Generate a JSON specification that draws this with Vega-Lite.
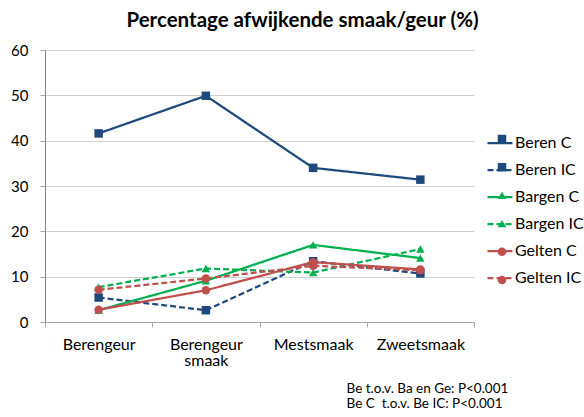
{
  "$schema": "https://vega.github.io/schema/vega-lite/v6.json",
  "width": 429,
  "height": 272,
  "autosize": {"type": "none"},
  "padding": {"left": 45, "top": 50, "right": 110, "bottom": 95},
  "background": "white",
  "config": {
    "font": "Lato",
    "view": {"stroke": null},
    "axis": {"labelFont": "Lato", "titleFont": "Lato"}
  },
  "title": {
    "text": "Percentage afwijkende smaak/geur (%)",
    "font": "Lato",
    "fontSize": 20.5,
    "fontWeight": "bold",
    "color": "#000000",
    "anchor": "middle",
    "frame": "group",
    "dx": 43,
    "dy": 19,
    "baseline": "alphabetic",
    "offset": 15
  },
  "data": {
    "values": [
      {"series": "Beren C", "cat": "Berengeur", "value": 41.6},
      {"series": "Beren C", "cat": "Berengeur smaak", "value": 49.9},
      {"series": "Beren C", "cat": "Mestsmaak", "value": 34.0},
      {"series": "Beren C", "cat": "Zweetsmaak", "value": 31.4},
      {"series": "Beren IC", "cat": "Berengeur", "value": 5.4},
      {"series": "Beren IC", "cat": "Berengeur smaak", "value": 2.6},
      {"series": "Beren IC", "cat": "Mestsmaak", "value": 13.4},
      {"series": "Beren IC", "cat": "Zweetsmaak", "value": 10.7},
      {"series": "Bargen C", "cat": "Berengeur", "value": 2.6},
      {"series": "Bargen C", "cat": "Berengeur smaak", "value": 9.1},
      {"series": "Bargen C", "cat": "Mestsmaak", "value": 17.0},
      {"series": "Bargen C", "cat": "Zweetsmaak", "value": 14.1},
      {"series": "Bargen IC", "cat": "Berengeur", "value": 7.7},
      {"series": "Bargen IC", "cat": "Berengeur smaak", "value": 11.8},
      {"series": "Bargen IC", "cat": "Mestsmaak", "value": 10.9},
      {"series": "Bargen IC", "cat": "Zweetsmaak", "value": 16.1},
      {"series": "Gelten C", "cat": "Berengeur", "value": 2.7},
      {"series": "Gelten C", "cat": "Berengeur smaak", "value": 7.0},
      {"series": "Gelten C", "cat": "Mestsmaak", "value": 13.2},
      {"series": "Gelten C", "cat": "Zweetsmaak", "value": 11.6},
      {"series": "Gelten IC", "cat": "Berengeur", "value": 7.1},
      {"series": "Gelten IC", "cat": "Berengeur smaak", "value": 9.6},
      {"series": "Gelten IC", "cat": "Mestsmaak", "value": 12.4},
      {"series": "Gelten IC", "cat": "Zweetsmaak", "value": 11.4}
    ]
  },
  "encoding": {
    "x": {
      "field": "cat",
      "type": "nominal",
      "sort": ["Berengeur", "Berengeur smaak", "Mestsmaak", "Zweetsmaak"],
      "bandPosition": 0.5,
      "scale": {"type": "band", "paddingInner": 0, "paddingOuter": 0},
      "axis": {
        "labelAngle": 0,
        "labelExpr": "split(datum.label, ' ')",
        "labelFontSize": 16,
        "labelColor": "#000000",
        "labelLineHeight": 16,
        "labelPadding": 9,
        "labelBaseline": "top",
        "tickBand": "extent",
        "tickSize": 5,
        "tickColor": "#a6a6a6",
        "domainColor": "#a6a6a6",
        "grid": false,
        "title": ["Be t.o.v. Ba en Ge: P<0.001", "Be C\u00a0 t.o.v. Be IC: P<0.001"],
        "titleFontSize": 13.5,
        "titleFontWeight": "normal",
        "titleColor": "#000000",
        "titleAlign": "left",
        "titleAnchor": "start",
        "titleBaseline": "alphabetic",
        "titleX": 301,
        "titleY": 70,
        "titleLineHeight": 15
      }
    },
    "y": {
      "field": "value",
      "type": "quantitative",
      "scale": {"domain": [0, 60], "nice": false, "zero": true},
      "axis": {
        "values": [0, 10, 20, 30, 40, 50, 60],
        "labelFontSize": 15,
        "labelColor": "#000000",
        "labelPadding": 12,
        "tickSize": 5,
        "tickColor": "#a6a6a6",
        "domainColor": "#868686",
        "gridColor": "#cfcfcf",
        "gridWidth": 1,
        "title": null
      }
    }
  },
  "layer": [
    {
      "mark": {"type": "line", "strokeWidth": 2.25},
      "encoding": {
        "color": {
          "field": "series",
          "type": "nominal",
          "scale": {
            "domain": ["Beren C", "Beren IC", "Bargen C", "Bargen IC", "Gelten C", "Gelten IC"],
            "range": ["#1f497d", "#1f497d", "#00b050", "#00b050", "#c0504d", "#c0504d"]
          },
          "legend": {
            "orient": "none",
            "legendX": 441,
            "legendY": 79,
            "title": null,
            "padding": 0,
            "symbolType": "stroke",
            "symbolSize": 625,
            "symbolStrokeWidth": 2.25,
            "rowPadding": 5,
            "labelOffset": 1,
            "labelFont": "Lato",
            "labelFontSize": 16,
            "labelColor": "#000000"
          }
        },
        "strokeDash": {
          "field": "series",
          "type": "nominal",
          "scale": {
            "domain": ["Beren C", "Beren IC", "Bargen C", "Bargen IC", "Gelten C", "Gelten IC"],
            "range": [[1, 0], [6, 3], [1, 0], [6, 3], [1, 0], [6, 3]]
          }
        }
      }
    },
    {
      "mark": {"type": "point", "filled": true, "opacity": 1, "size": 72, "strokeWidth": 0},
      "encoding": {
        "fill": {
          "field": "series",
          "type": "nominal",
          "scale": {
            "domain": ["Beren C", "Beren IC", "Bargen C", "Bargen IC", "Gelten C", "Gelten IC"],
            "range": ["#1f497d", "#1f497d", "#00b050", "#00b050", "#c0504d", "#c0504d"]
          },
          "legend": {
            "orient": "right",
            "offset": -61.5,
            "padding": 81,
            "title": null,
            "symbolSize": 72,
            "symbolOpacity": 1,
            "symbolStrokeWidth": 0,
            "rowPadding": 12.2,
            "labelOffset": 3,
            "labelFont": "Lato",
            "labelFontSize": 16,
            "labelOpacity": 0,
            "labelExpr": "' '"
          }
        },
        "shape": {
          "field": "series",
          "type": "nominal",
          "scale": {
            "domain": ["Beren C", "Beren IC", "Bargen C", "Bargen IC", "Gelten C", "Gelten IC"],
            "range": ["square", "square", "triangle-up", "triangle-up", "circle", "circle"]
          },
          "legend": {
            "orient": "right",
            "offset": -61.5,
            "padding": 81,
            "title": null,
            "symbolSize": 72,
            "symbolOpacity": 1,
            "symbolStrokeWidth": 0,
            "rowPadding": 12.2,
            "labelOffset": 3,
            "labelFont": "Lato",
            "labelFontSize": 16,
            "labelOpacity": 0,
            "labelExpr": "' '"
          }
        }
      }
    }
  ]
}
